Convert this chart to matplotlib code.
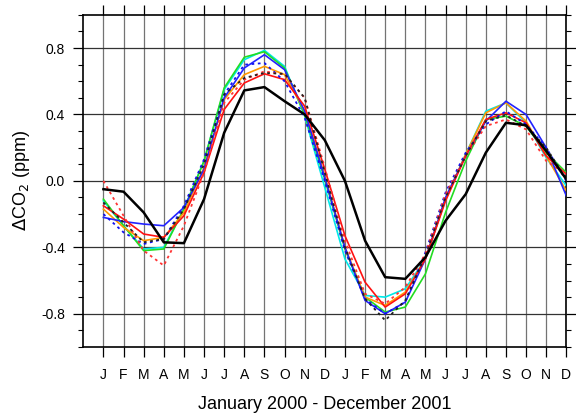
import matplotlib
matplotlib.use("Agg")
import matplotlib.pyplot as plt
from matplotlib.ticker import MultipleLocator

plt.rcParams['font.family'] = ['Liberation Sans', 'DejaVu Sans']

months = ["J", "F", "M", "A", "M", "J", "J", "A", "S", "O", "N", "D"] * 2

obs = [-0.05, -0.065, -0.19, -0.37, -0.375, -0.11, 0.29, 0.545, 0.565, 0.48, 0.40, 0.245,
       0.0, -0.36, -0.58, -0.59, -0.46, -0.24, -0.08, 0.17, 0.35, 0.335, 0.18, 0.01]
red_solid = [-0.15, -0.23, -0.32, -0.34, -0.21, 0.05, 0.43, 0.59, 0.645, 0.61, 0.45, 0.07,
             -0.33, -0.61, -0.76, -0.68, -0.47, -0.12, 0.15, 0.37, 0.41, 0.35, 0.15, 0.04]
red_dot = [0.0, -0.21, -0.42, -0.51, -0.27, 0.05, 0.47, 0.61, 0.66, 0.64, 0.50, 0.08,
           -0.36, -0.68, -0.74, -0.64, -0.44, -0.08, 0.15, 0.33, 0.37, 0.31, 0.12, 0.04]
blue_solid = [-0.22, -0.245, -0.26, -0.27, -0.16, 0.07, 0.50, 0.68, 0.76, 0.67, 0.42, 0.02,
              -0.40, -0.72, -0.80, -0.73, -0.47, -0.10, 0.15, 0.36, 0.48, 0.40, 0.20, -0.09]
blue_dot = [-0.20, -0.31, -0.38, -0.35, -0.15, 0.13, 0.52, 0.70, 0.71, 0.60, 0.38, 0.0,
            -0.42, -0.71, -0.80, -0.73, -0.43, -0.07, 0.17, 0.34, 0.42, 0.34, 0.20, 0.0]
orange = [-0.17, -0.28, -0.36, -0.34, -0.19, 0.08, 0.49, 0.64, 0.69, 0.64, 0.42, 0.03,
          -0.40, -0.70, -0.75, -0.67, -0.47, -0.11, 0.16, 0.41, 0.47, 0.36, 0.15, -0.06]
green = [-0.11, -0.27, -0.42, -0.41, -0.17, 0.12, 0.56, 0.745, 0.778, 0.68, 0.40, 0.01,
         -0.41, -0.70, -0.79, -0.76, -0.56, -0.19, 0.12, 0.37, 0.39, 0.33, 0.17, 0.05]
cyan = [-0.12, -0.27, -0.41, -0.40, -0.17, 0.12, 0.55, 0.73, 0.786, 0.69, 0.39, -0.04,
        -0.47, -0.69, -0.70, -0.65, -0.47, -0.11, 0.16, 0.42, 0.47, 0.35, 0.14, -0.03]
black_dot = [-0.13, -0.25, -0.37, -0.35, -0.17, 0.10, 0.52, 0.62, 0.65, 0.645, 0.50, 0.05,
             -0.40, -0.71, -0.84, -0.72, -0.45, -0.10, 0.15, 0.36, 0.395, 0.33, 0.20, 0.01]

x = list(range(len(months)))

fig = plt.figure(figsize=(5.76, 4.13), dpi=100)
ax = fig.add_axes([0.1446, 0.160, 0.8386, 0.804])

# grid
for xi in x:
    ax.axvline(xi, color='0.45', lw=0.9, zorder=1)
for yv in [-0.8, -0.4, 0.0, 0.4, 0.8]:
    ax.axhline(yv, color='0.2', lw=0.9, zorder=1)

# model curves
ax.plot(x, cyan, color='#00e8e8', lw=1.2, zorder=3)
ax.plot(x, green, color='#22dd22', lw=1.2, zorder=3)
ax.plot(x, orange, color='#ff9900', lw=1.2, zorder=3)
ax.plot(x, blue_solid, color='#2222ff', lw=1.2, zorder=3)
ax.plot(x, red_solid, color='#ff1111', lw=1.2, zorder=3)
ax.plot(x, blue_dot, color='#1111ee', lw=1.3, ls=(0, (1.5, 2)), zorder=4)
ax.plot(x, red_dot, color='#ff3333', lw=1.3, ls=(0, (1.5, 2)), zorder=4)
ax.plot(x, black_dot, color='#222222', lw=1.3, ls=(0, (1.5, 2)), zorder=4)
# observations
ax.plot(x, obs, color='black', lw=1.8, zorder=5)

ax.set_xlim(-1, 23)
ax.set_ylim(-1, 1)

ax.set_xticks(x)
ax.set_xticklabels(months, fontsize=10)
ax.set_yticks([-0.8, -0.4, 0.0, 0.4, 0.8])
ax.set_yticklabels(["-0.8", "-0.4", "0.0", "0.4", "0.8"], fontsize=10)
ax.yaxis.set_minor_locator(MultipleLocator(0.1))

ax.tick_params(axis='x', which='major', direction='out', length=7, width=0.9,
               top=True, labeltop=False, pad=8)
ax.tick_params(axis='y', which='major', direction='out', length=7, width=0.9,
               right=True, labelright=False, pad=6)
ax.tick_params(axis='y', which='minor', direction='out', length=3.5, width=0.8,
               right=True)

for s in ax.spines.values():
    s.set_linewidth(1.2)

ax.set_xlabel("January 2000 - December 2001", fontsize=13, labelpad=10)
ax.set_ylabel(r"$\Delta$CO$_2$ (ppm)", fontsize=13, labelpad=7)

fig.savefig("out.png", dpi=100)
